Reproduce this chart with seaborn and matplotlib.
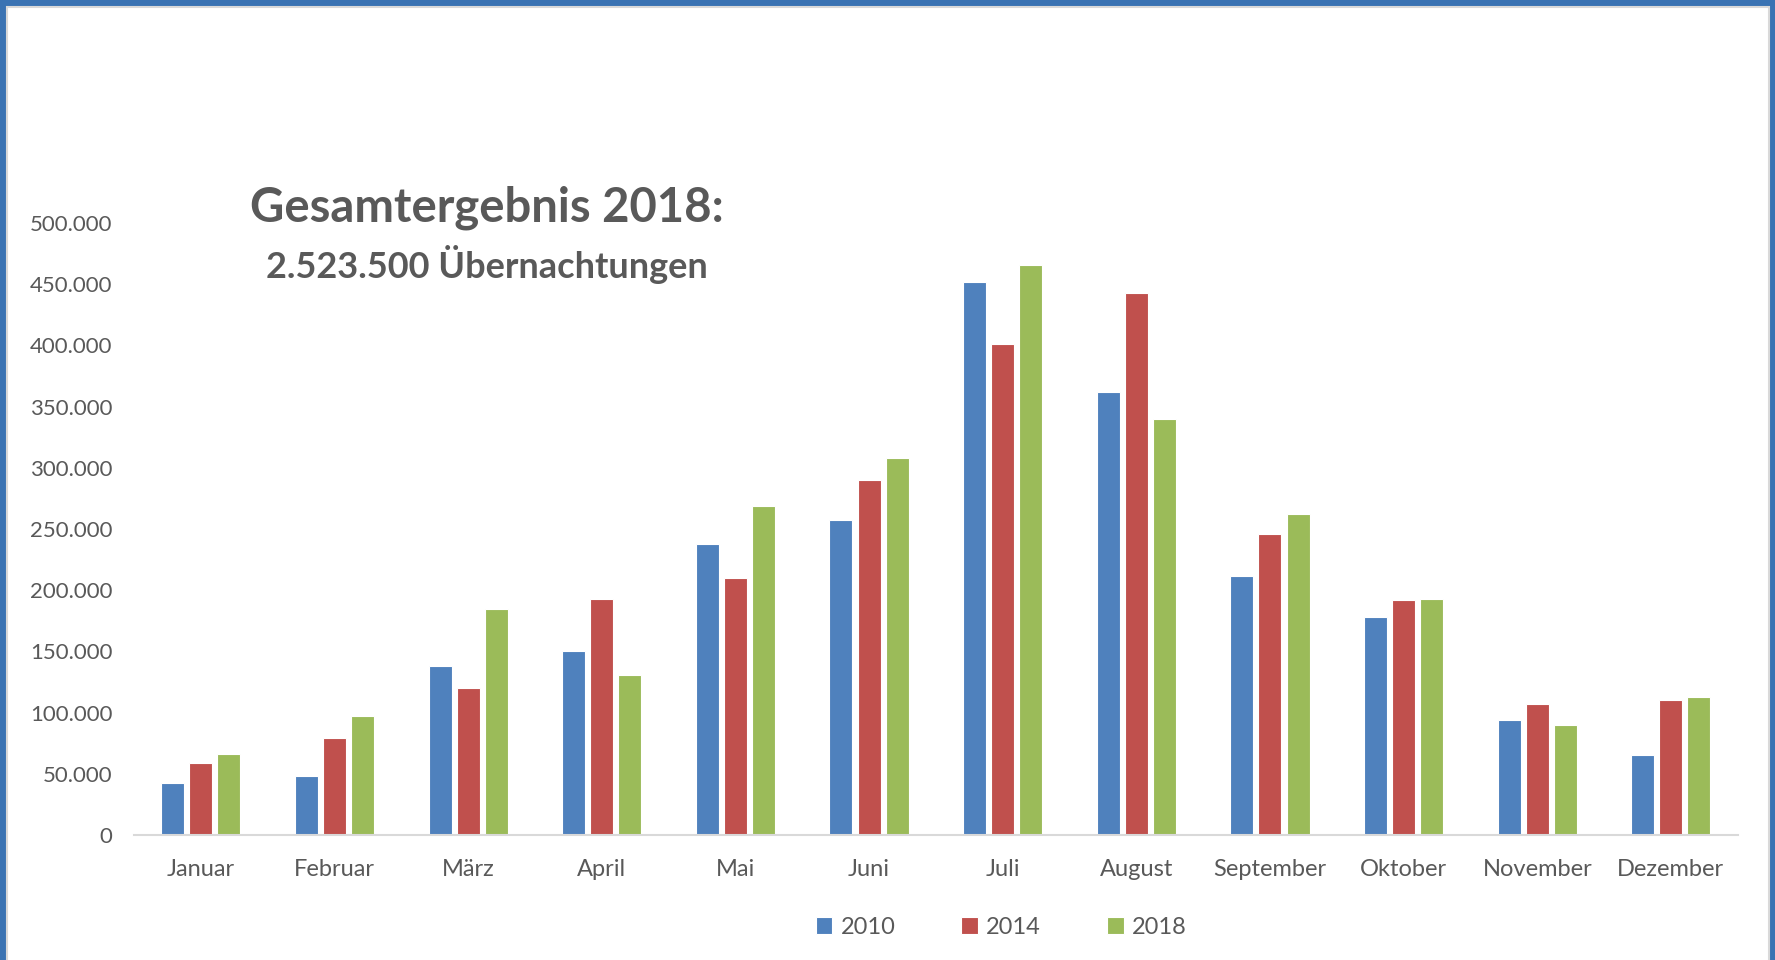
import pandas as pd
import matplotlib.pyplot as plt
import seaborn as sns
from matplotlib.patches import Rectangle

# Monatswerte (Übernachtungen)
monate = ['Januar', 'Februar', 'März', 'April', 'Mai', 'Juni', 'Juli',
          'August', 'September', 'Oktober', 'November', 'Dezember']
jahre = ['2010', '2014', '2018']
werte_2010 = [42500, 48000, 138000, 150000, 237500, 257000, 452000,
              362000, 212000, 178000, 94000, 65000]
werte_2014 = [59000, 79500, 120000, 193000, 210000, 290000, 401000,
              443000, 246000, 192000, 107000, 110000]
werte_2018 = [66500, 97000, 185000, 131000, 269000, 308000, 466000,
              340000, 262500, 193000, 90000, 113000]
y_ticks = [0, 50000, 100000, 150000, 200000, 250000, 300000, 350000, 400000, 450000, 500000]
titel = 'Gesamtergebnis 2018:'
untertitel = '2.523.500 Übernachtungen'

farben = ['#4F81BD', '#C0504D', '#9BBB59']
grau = '#595959'
rahmen = '#3A73B3'

df = pd.DataFrame({'Monat': monate * 3,
                   'Jahr': [j for j in jahre for _ in monate],
                   'Wert': werte_2010 + werte_2014 + werte_2018})

sns.set_theme(style='white')
plt.rcParams['font.family'] = ['Lato', 'DejaVu Sans']

fig = plt.figure(figsize=(17.75, 9.6), dpi=100)
ax = fig.add_axes([0.0755, 0.1302, 0.9035, 0.6375])

sns.barplot(data=df, x='Monat', y='Wert', hue='Jahr', palette=farben,
            width=0.63, gap=0.18, ax=ax, edgecolor='white', linewidth=0.8,
            saturation=1)

ax.set_ylim(0, 500000)
ax.set_xlim(-0.5, len(monate) - 0.5)
ax.set_yticks(y_ticks)
ax.set_yticklabels([f'{v:,}'.replace(',', '.') for v in y_ticks])
ax.set_xlabel('')
ax.set_ylabel('')
ax.tick_params(axis='both', length=0, colors=grau, labelsize=16)
ax.tick_params(axis='x', labelsize=17, pad=17)
ax.tick_params(axis='y', pad=15.5)
for side in ['top', 'right', 'left']:
    ax.spines[side].set_visible(False)
ax.spines['bottom'].set_color('#D9D9D9')
ax.spines['bottom'].set_linewidth(1.5)

sns.move_legend(ax, 'center', bbox_to_anchor=(0.564, 0.034),
                bbox_transform=fig.transFigure, ncol=3, frameon=False,
                title=None, fontsize=17, handlelength=0.7, handleheight=0.7,
                handletextpad=0.35, columnspacing=2.8)
for t in ax.get_legend().get_texts():
    t.set_color(grau)

fig.text(0.2745, 0.784, titel, ha='center', va='center', fontsize=34,
         fontweight='bold', color=grau)
fig.text(0.2745, 0.725, untertitel, ha='center', va='center', fontsize=26,
         fontweight='bold', color=grau)

# blauer Rahmen (oben, links, rechts)
for x, y, w, h in [(0, 0.9925, 1, 0.0075), (0, 0, 0.004, 1), (0.997, 0, 0.003, 1)]:
    fig.patches.append(Rectangle((x, y), w, h, transform=fig.transFigure,
                                 facecolor=rahmen, edgecolor='none'))
fig.patches.append(Rectangle((0.004, -0.01), 0.9925, 1.0025, transform=fig.transFigure,
                             fill=False, edgecolor='#D9D9D9', linewidth=1.5))

fig.savefig('out.png', dpi=100)
